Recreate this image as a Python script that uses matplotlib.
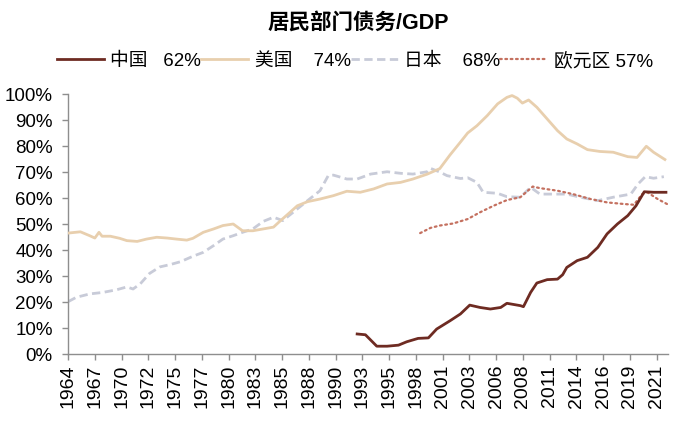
import numpy as np
import matplotlib
matplotlib.use("Agg")
from matplotlib import pyplot as plt

plt.rcParams['font.family'] = ['Liberation Sans', 'Noto Sans CJK SC', 'DejaVu Sans']

# 数据 (读图估计, 单位 %)
cn_year = [1992.0, 1992.8, 1993.9, 1994.9, 1996.0, 1996.8, 1997.9, 1998.9, 1999.7, 2001.0,
           2002.0, 2002.9, 2003.9, 2004.9, 2005.9, 2006.5, 2007.8, 2008.1, 2008.8, 2009.4,
           2010.4, 2011.4, 2011.9, 2012.3, 2013.3, 2014.3, 2015.3, 2016.2, 2017.2, 2018.2,
           2019.0, 2019.8, 2020.7, 2021.9]
cn_val = [7.7, 7.4, 3.0, 3.0, 3.4, 4.7, 6.0, 6.2, 9.6, 12.8,
          15.4, 18.8, 17.9, 17.3, 17.9, 19.5, 18.6, 18.2, 23.7, 27.3,
          28.6, 28.8, 30.5, 33.3, 35.9, 37.2, 41.0, 46.2, 50.0, 53.2,
          57.0, 62.4, 62.2, 62.2]

us_year = [1964.0, 1965.2, 1966.1, 1966.6, 1967.0, 1967.3, 1968.1, 1969.0, 1969.7, 1970.7,
           1971.6, 1972.6, 1973.6, 1974.5, 1975.5, 1976.1, 1977.1, 1978.1, 1979.0, 1980.0,
           1980.9, 1981.9, 1982.9, 1983.9, 1984.5, 1985.5, 1986.2, 1987.2, 1988.4, 1989.7,
           1991.0, 1992.3, 1993.6, 1994.9, 1996.2, 1997.4, 1998.8, 2000.0, 2001.0, 2002.0,
           2002.7, 2003.6, 2004.6, 2005.6, 2006.5, 2007.0, 2007.5, 2008.0, 2008.6, 2009.4,
           2010.4, 2011.4, 2012.3, 2013.3, 2014.3, 2015.5, 2016.8, 2018.2, 2019.1, 2020.0,
           2020.7, 2021.8]
us_val = [46.5, 47.0, 45.5, 44.6, 46.8, 45.3, 45.3, 44.5, 43.6, 43.3,
          44.2, 44.9, 44.6, 44.2, 43.8, 44.5, 46.8, 48.1, 49.4, 50.0,
          47.4, 47.4, 48.1, 48.8, 51.0, 54.5, 57.0, 58.6, 59.6, 60.9,
          62.6, 62.2, 63.5, 65.4, 66.0, 67.3, 69.2, 71.3, 76.6, 81.5,
          85.0, 87.8, 91.7, 96.2, 98.7, 99.4, 98.4, 96.5, 97.7, 94.9,
          90.4, 85.9, 82.7, 80.8, 78.6, 77.9, 77.6, 75.9, 75.6, 79.9,
          77.6, 74.8]

jp_year = [1964.0, 1964.8, 1966.1, 1967.4, 1968.7, 1969.7, 1970.3, 1971.0, 1971.9, 1972.9,
           1973.9, 1974.9, 1976.1, 1977.1, 1978.1, 1979.0, 1980.0, 1980.9, 1981.9, 1982.9,
           1983.9, 1984.8, 1985.8, 1987.2, 1988.4, 1989.2, 1989.7, 1991.0, 1992.0, 1993.3,
           1994.9, 1996.2, 1997.4, 1998.8, 1999.1, 2000.0, 2000.7, 2002.0, 2002.7, 2003.6,
           2004.2, 2005.6, 2006.5, 2007.8, 2008.8, 2009.7, 2011.0, 2012.3, 2013.6, 2015.3,
           2016.8, 2018.5, 2019.2, 2019.9, 2020.7, 2021.7]
jp_val = [20.1, 21.8, 23.1, 23.7, 24.7, 25.8, 25.0, 27.0, 31.0, 33.5,
          34.4, 35.5, 37.6, 39.1, 41.7, 44.2, 45.5, 46.8, 48.1, 51.0,
          52.6, 51.3, 54.5, 59.0, 62.8, 68.6, 68.8, 67.3, 67.3, 69.2,
          70.1, 69.5, 69.2, 70.1, 71.4, 70.0, 68.6, 67.5, 67.8, 66.0,
          62.2, 61.8, 60.5, 60.3, 64.1, 61.5, 61.5, 61.5, 60.3, 59.0,
          60.3, 61.5, 65.4, 68.2, 67.6, 68.2]

eu_year = [1998.1, 1999.1, 2000.0, 2001.3, 2002.7, 2003.9, 2005.2, 2006.5, 2007.8, 2009.0,
           2009.7, 2011.4, 2012.9, 2014.6, 2016.2, 2017.8, 2018.8, 2019.6, 2020.1, 2021.1,
           2022.0]
eu_val = [46.5, 48.5, 49.4, 50.2, 51.9, 54.5, 57.0, 59.2, 60.3, 64.4,
          63.8, 62.8, 61.5, 59.6, 58.3, 57.7, 57.4, 61.5, 62.2, 59.6,
          57.7]

tick_labels = ['1964', '1967', '1970', '1972', '1975', '1977', '1980', '1983', '1985',
               '1988', '1990', '1993', '1995', '1998', '2001', '2003', '2006', '2008',
               '2011', '2014', '2016', '2019', '2021']
legend_labels = ['中国   62%', '美国    74%', '日本    68%', '欧元区 57%']

fig = plt.figure(figsize=(7, 4.31), dpi=100)
ax = fig.add_axes([68/700, 1-355/431, 600/700, 260/431])

ax.plot(cn_year, cn_val, color='#6E2B22', lw=2.0, label=legend_labels[0], zorder=5)
ax.plot(us_year, us_val, color='#E8CFAE', lw=2.0, label=legend_labels[1], zorder=3)
ax.plot(jp_year, jp_val, color='#C8CBD8', lw=2.0, dashes=(3, 1.6), label=legend_labels[2], zorder=2)
ax.plot(eu_year, eu_val, color='#C4705F', lw=1.6, linestyle=(0, (0.8, 1.6)),
        dash_capstyle='round', label=legend_labels[3], zorder=4)

ax.set_xlim(1964, 2022.1)
ax.set_ylim(0, 100)
ticks = 1964 + np.arange(len(tick_labels)) * 57 / 22
ax.set_xticks(ticks)
ax.set_xticklabels(tick_labels, rotation=90, fontsize=14)
ax.set_yticks(np.arange(0, 101, 10))
ax.set_yticklabels(['%d%%' % v for v in range(0, 101, 10)], fontsize=13.5)

for s in ['top', 'right']:
    ax.spines[s].set_visible(False)
for s in ['left', 'bottom']:
    ax.spines[s].set_color('#8E8E8E')
    ax.spines[s].set_linewidth(1.0)
ax.tick_params(axis='both', colors='#8E8E8E', length=4, width=1.0, labelcolor='black')
ax.tick_params(axis='y', pad=7)
ax.tick_params(axis='x', pad=3)

fig.text(0.512, 0.946, '居民部门债务/GDP', ha='center', va='center',
         fontsize=15.5, fontweight='bold')

ax.legend(loc='center', bbox_to_anchor=(0.507, 0.858), bbox_transform=fig.transFigure,
          ncol=4, frameon=False, columnspacing=0.0, handlelength=2.5,
          handletextpad=0.35, borderpad=0, fontsize=13.5)

fig.savefig('out.png', dpi=100)
